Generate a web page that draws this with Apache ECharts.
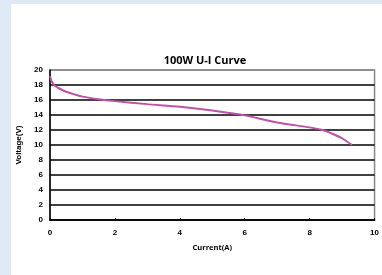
<!DOCTYPE html>
<html>
<head>
<meta charset="utf-8">
<script src="https://cdn.jsdelivr.net/npm/echarts@6/dist/echarts.min.js"></script>
<style>
  html, body { margin: 0; padding: 0; background: #dfe8f5; }
  #chart { width: 382px; height: 275px; }
</style>
</head>
<body>
<div id="chart"></div>
<script>
// current (A) / voltage (V)
var current = [0, 0.05, 0.15, 0.3, 0.5, 0.75, 1, 1.5, 2, 3, 4, 5, 6, 7, 8, 8.4, 8.7, 9, 9.3];
var voltage = [19.2, 18.5, 17.9, 17.5, 17.1, 16.75, 16.45, 16.1, 15.85, 15.45, 15.1, 14.6, 13.95, 13.0, 12.35, 12.0, 11.5, 10.9, 10.0];

var points = [];
current.forEach(function (c, i) {
  points.push([c, voltage[i]]);
});

// split line colours: inner lines black, top one grey (chart border)
var splitColors = ['#000', '#000', '#000', '#000', '#000', '#000', '#000', '#000', '#000', '#000', '#888'];

var chart = echarts.init(document.getElementById('chart'));
var option = {
  animation: false,
  backgroundColor: 'transparent',
  graphic: [{
    type: 'rect',
    left: 11, top: 4, z: -10,
    shape: { width: 371, height: 271 },
    style: { fill: '#fff' }
  }],
  title: {
    text: '100W U-I Curve',
    left: 200, top: 50, textAlign: 'center',
    textStyle: { fontFamily: 'Open Sans', fontWeight: 'bold', fontSize: 11, color: '#000' }
  },
  grid: {
    left: 50, right: 6, top: 70, bottom: 55,
    show: true, borderColor: '#888', borderWidth: 1.5, backgroundColor: '#fff'
  },
  xAxis: {
    type: 'value', min: 0, max: 10, interval: 2,
    name: 'Current(A)', nameLocation: 'middle', nameGap: 24,
    nameTextStyle: { fontFamily: 'Open Sans', fontWeight: 'bold', fontSize: 7.5, color: '#000' },
    axisLine: { lineStyle: { color: '#000', width: 1.5 } },
    axisTick: { show: true, inside: true, length: 2, lineStyle: { color: '#000' } },
    axisLabel: { fontFamily: 'Liberation Sans', fontWeight: 'bold', fontSize: 8, color: '#000', margin: 9 },
    splitLine: { show: false }
  },
  yAxis: {
    type: 'value', min: 0, max: 20, interval: 2,
    name: 'Voltage(V)', nameLocation: 'middle', nameGap: 26,
    nameTextStyle: { fontFamily: 'Liberation Sans', fontWeight: 'bold', fontSize: 8, color: '#000' },
    axisLine: { show: true, lineStyle: { color: '#000', width: 1.5 } },
    axisTick: { show: false },
    axisLabel: { fontFamily: 'Liberation Sans', fontWeight: 'bold', fontSize: 8, color: '#000', margin: 7 },
    splitLine: { show: true, lineStyle: { color: splitColors, width: 1.5 } }
  },
  series: [{
    type: 'line',
    data: points,
    smooth: 0.25,
    showSymbol: false,
    lineStyle: { color: '#bd52a6', width: 2 }
  }]
};
chart.setOption(option);
</script>
</body>
</html>
